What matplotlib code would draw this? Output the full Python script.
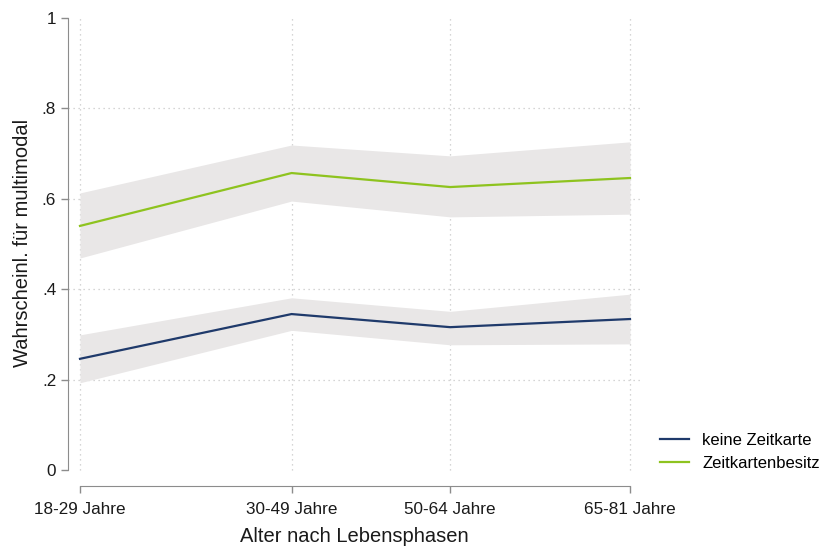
import matplotlib
matplotlib.use("Agg")
import matplotlib.pyplot as plt

plt.rcParams['font.family'] = ['Liberation Sans', 'DejaVu Sans']

# Age groups (x placed at the upper age bound of each group)
age_labels = ["18-29 Jahre", "30-49 Jahre", "50-64 Jahre", "65-81 Jahre"]
age_x = [29, 49, 64, 81]

# Predicted probability of multimodal travel with 95% CI
keine_pred = [0.246, 0.345, 0.316, 0.334]
keine_lo = [0.193, 0.309, 0.277, 0.279]
keine_hi = [0.299, 0.381, 0.351, 0.389]

besitz_pred = [0.540, 0.657, 0.626, 0.646]
besitz_lo = [0.469, 0.595, 0.560, 0.566]
besitz_hi = [0.613, 0.719, 0.695, 0.726]

y_ticks = [0, 0.2, 0.4, 0.6, 0.8, 1.0]
y_ticklabels = ["0", ".2", ".4", ".6", ".8", "1"]

navy = "#1f3a6b"
green = "#8ec31f"
band = "#e9e7e7"
axis_gray = "#8c8c8c"

fig = plt.figure(figsize=(8.27, 5.47), dpi=100)
ax = fig.add_axes([68 / 827, (547 - 476) / 547, (640 - 68) / 827, (476 - 10) / 547])

ax.set_xlim(29 - 12 / 10.577, 81 + 10 / 10.577)
ax.set_ylim(-6 / 452, 1 + 8 / 452)

# gridlines
for gx in age_x:
    ax.plot([gx, gx], [0, 1], color="#c8c8c8", lw=0.9, ls=(0, (1, 3)), zorder=0)
for gy in [0.2, 0.4, 0.6, 0.8]:
    ax.axhline(gy, color="#c8c8c8", lw=0.9, ls=(0, (1, 3)), zorder=0)

ax.fill_between(age_x, keine_lo, keine_hi, color=band, lw=0, zorder=1)
ax.fill_between(age_x, besitz_lo, besitz_hi, color=band, lw=0, zorder=1)
ax.plot(age_x, keine_pred, color=navy, lw=1.6, label="keine Zeitkarte", zorder=3)
ax.plot(age_x, besitz_pred, color=green, lw=1.6, label="Zeitkartenbesitz", zorder=3)

for s in ["top", "right"]:
    ax.spines[s].set_visible(False)
ax.spines["left"].set_bounds(0, 1)
ax.spines["left"].set_color(axis_gray)
ax.spines["bottom"].set_bounds(29, 81)
ax.spines["bottom"].set_color(axis_gray)
ax.spines["bottom"].set_position(("outward", 7))

ax.set_yticks(y_ticks)
ax.set_yticklabels(y_ticklabels)
ax.set_xticks(age_x)
ax.set_xticklabels(age_labels)
ax.tick_params(axis="both", colors=axis_gray, labelcolor="#1a1a1a", labelsize=12.3, length=5, width=1)
ax.tick_params(axis="x", pad=7)

ax.set_ylabel("Wahrscheinl. für multimodal", fontsize=14.5, color="#1a1a1a", labelpad=7)
ax.set_xlabel("Alter nach Lebensphasen", fontsize=14.5, color="#1a1a1a", labelpad=7)

ax.legend(loc="upper left", bbox_to_anchor=(645 / 827, (547 - 418) / 547),
          bbox_transform=fig.transFigure, frameon=False, fontsize=12,
          handlelength=1.75, handletextpad=0.8, labelspacing=0.45)

fig.savefig("out.png", dpi=100)
